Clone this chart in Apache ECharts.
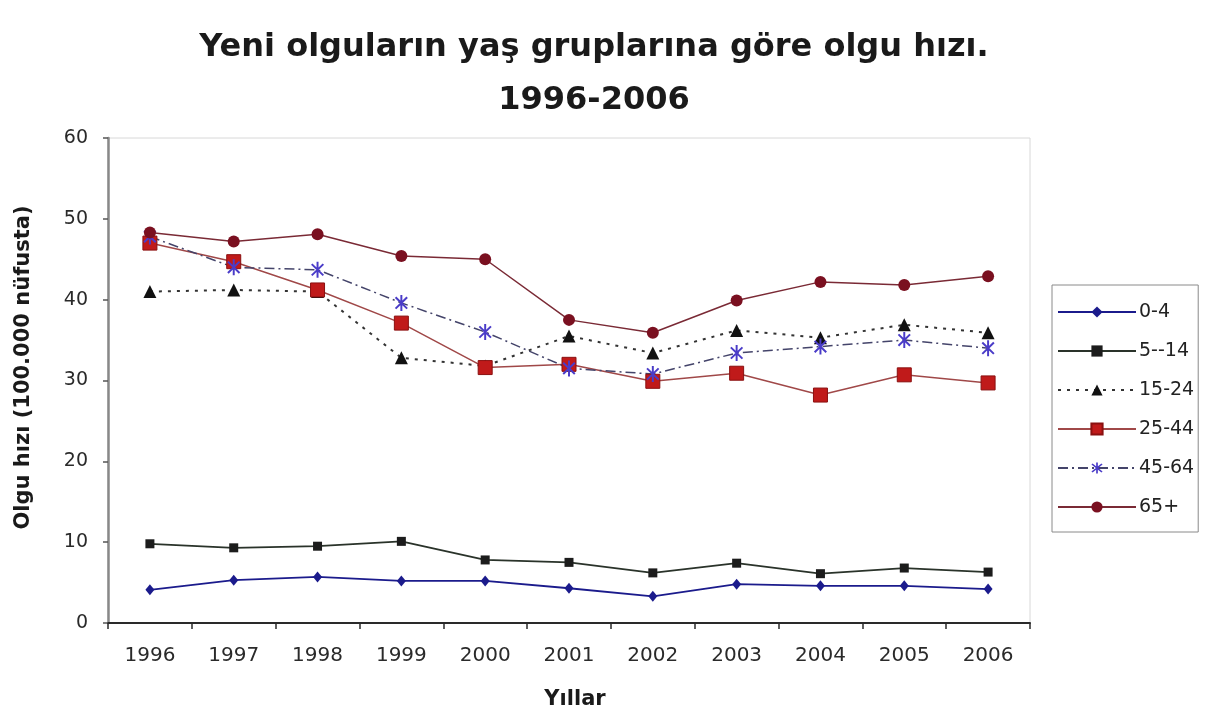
<!DOCTYPE html>
<html lang="tr">
<head>
    <meta charset="UTF-8"/>
    <title>Yeni olguların yaş gruplarına göre olgu hızı</title>
    <script type="text/javascript" src="https://cdn.jsdelivr.net/npm/echarts@6/dist/echarts.min.js"></script>
    <style>
        html, body {margin: 0; padding: 0; background: #fff;}
        #chart {width: 1215px; height: 723px;}
    </style>
</head>
<body>
<div id="chart"></div>
<script type="text/javascript">
    var years = ["1996", "1997", "1998", "1999", "2000", "2001", "2002", "2003", "2004", "2005", "2006"];
    var yTicks = [0, 10, 20, 30, 40, 50, 60];

    var s0_4 = [4.1, 5.3, 5.7, 5.2, 5.2, 4.3, 3.3, 4.8, 4.6, 4.6, 4.2];
    var s5_14 = [9.8, 9.3, 9.5, 10.1, 7.8, 7.5, 6.2, 7.4, 6.1, 6.8, 6.3];
    var s15_24 = [41.0, 41.2, 41.0, 32.8, 31.8, 35.5, 33.4, 36.2, 35.3, 36.9, 35.9];
    var s25_44 = [47.0, 44.7, 41.2, 37.1, 31.6, 32.0, 29.9, 30.9, 28.2, 30.7, 29.7];
    var s45_64 = [47.8, 44.0, 43.7, 39.6, 36.0, 31.5, 30.8, 33.4, 34.2, 35.0, 34.0];
    var s65 = [48.3, 47.2, 48.1, 45.4, 45.0, 37.5, 35.9, 39.9, 42.2, 41.8, 42.9];

    // asterisk marker: vertical bar + two diagonals
    var star = "path://M-1.2,-10L1.2,-10L1.2,10L-1.2,10Z" +
        "M-7.92,-6.22L-6.22,-7.92L7.92,6.22L6.22,7.92Z" +
        "M-6.22,7.92L-7.92,6.22L6.22,-7.92L7.92,-6.22Z";

    var font = "DejaVu Sans";
    var chart = echarts.init(document.getElementById("chart"));
    chart.setOption({
        animation: false,
        backgroundColor: "#fff",
        title: {
            text: "Yeni olguların yaş gruplarına göre olgu hızı.\n1996-2006",
            left: 589,
            top: 16,
            textAlign: "center",
            textStyle: {
                fontFamily: font,
                fontWeight: "bold",
                fontSize: 32,
                lineHeight: 53,
                color: "#1a1a1a"
            }
        },
        legend: {
            orient: "vertical",
            left: 1052,
            top: 285,
            width: 146,
            padding: [17, 4, 15, 5],
            borderColor: "#8a8a8a",
            borderWidth: 1,
            itemWidth: 78,
            itemHeight: 14,
            itemGap: 19,
            textStyle: {fontFamily: font, fontSize: 19, lineHeight: 20, color: "#222", padding: [0, 0, 0, -2]},
            data: ["0-4", "5--14", "15-24", "25-44", "45-64", "65+"]
        },
        grid: {
            left: 108,
            right: 185,
            top: 138,
            bottom: 100,
            show: true,
            borderColor: "#d8d8d8",
            borderWidth: 1
        },
        xAxis: {
            type: "category",
            data: years,
            boundaryGap: true,
            name: "Yıllar",
            nameLocation: "middle",
            nameGap: 66,
            nameTextStyle: {fontFamily: font, fontWeight: "bold", fontSize: 21, color: "#1a1a1a", padding: [0, 0, 0, 12]},
            axisLine: {lineStyle: {color: "#2a2a2a", width: 2}},
            axisTick: {show: true, length: 6, lineStyle: {color: "#2a2a2a", width: 1.5}},
            axisLabel: {fontFamily: font, fontSize: 20, color: "#2a2a2a", margin: 23},
            splitLine: {show: false}
        },
        yAxis: {
            type: "value",
            min: yTicks[0],
            max: yTicks[yTicks.length - 1],
            interval: 10,
            name: "Olgu hızı (100.000 nüfusta)",
            nameLocation: "middle",
            nameGap: 74,
            nameTextStyle: {fontFamily: font, fontWeight: "bold", fontSize: 21, color: "#1a1a1a", padding: [0, 0, 0, 26]},
            axisLine: {show: true, lineStyle: {color: "#888", width: 2.5}},
            axisTick: {show: true, length: 5, lineStyle: {color: "#555", width: 1.5}},
            axisLabel: {fontFamily: font, fontSize: 19, color: "#2a2a2a", margin: 20},
            splitLine: {show: false}
        },
        series: [
            {
                name: "0-4",
                type: "line",
                data: s0_4,
                symbol: "diamond",
                symbolSize: [9, 11],
                itemStyle: {color: "#1b1b8c"},
                lineStyle: {color: "#1b1b8c", width: 1.8}
            },
            {
                name: "5--14",
                type: "line",
                data: s5_14,
                symbol: "rect",
                symbolSize: 9,
                itemStyle: {color: "#1c1c1c"},
                lineStyle: {color: "#2a332a", width: 1.8}
            },
            {
                name: "15-24",
                type: "line",
                data: s15_24,
                symbol: "triangle",
                symbolSize: 13,
                itemStyle: {color: "#111"},
                lineStyle: {color: "#333", width: 2, type: [3, 6]}
            },
            {
                name: "25-44",
                type: "line",
                data: s25_44,
                symbol: "rect",
                symbolSize: 14,
                itemStyle: {color: "#c01a1a", borderColor: "#8a1010", borderWidth: 1},
                lineStyle: {color: "#a04848", width: 1.5}
            },
            {
                name: "45-64",
                type: "line",
                data: s45_64,
                symbol: star,
                symbolSize: [13, 16],
                itemStyle: {color: "#4a3cc8"},
                lineStyle: {color: "#44446a", width: 1.5, type: [10, 4, 2, 4]}
            },
            {
                name: "65+",
                type: "line",
                data: s65,
                symbol: "circle",
                symbolSize: 12,
                itemStyle: {color: "#7a1020"},
                lineStyle: {color: "#7a2a35", width: 1.5}
            }
        ]
    });
</script>
</body>
</html>
